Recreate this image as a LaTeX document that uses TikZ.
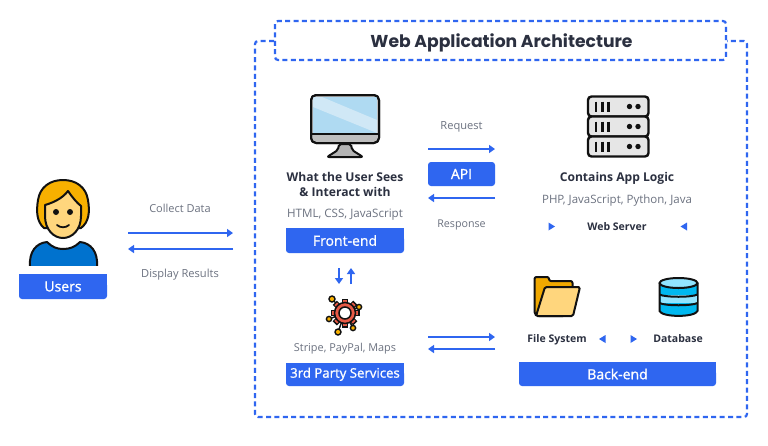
\documentclass[tikz,border=0pt]{standalone}
\usepackage{fontspec}
\setmainfont{Open Sans}
\newfontfamily\titlefont{Poppins}
\newfontfamily\medfont[FakeBold=1.1]{Open Sans}
\usetikzlibrary{arrows.meta}
\definecolor{brandblue}{HTML}{2F66F0}
\definecolor{inkdark}{HTML}{2B3040}
\definecolor{inkgray}{HTML}{6C7280}
\definecolor{iconline}{HTML}{111111}
\definecolor{shirt}{RGB}{0,114,206}
\definecolor{hair}{RGB}{247,176,0}
\definecolor{skin}{RGB}{255,214,125}
\definecolor{standgray}{RGB}{180,180,180}
\definecolor{bezel}{RGB}{190,190,190}
\definecolor{screenblue}{RGB}{175,218,242}
\definecolor{screenlight}{RGB}{208,232,246}
\definecolor{rackgray}{RGB}{230,230,230}
\definecolor{gearred}{RGB}{232,90,70}
\definecolor{folderback}{RGB}{240,168,0}
\definecolor{dbdark}{RGB}{0,184,240}
\definecolor{dblight}{RGB}{145,228,255}
\tikzset{
  frameline/.style={draw=brandblue,line width=2.2pt,dash pattern=on 5pt off 3.4pt},
  flow/.style={draw=brandblue,line width=1.9pt,-{Triangle[length=6pt,width=8pt]}},
  tagtext/.style={text=white,font=\medfont\fontsize{14}{15}\selectfont,inner sep=0pt},
  headtext/.style={text=inkdark,font=\fontsize{12.1}{15}\selectfont\bfseries,inner sep=0pt,align=center},
  subtext/.style={text=inkgray,inner sep=0pt},
  smalldark/.style={text=inkdark,font=\fontsize{10.5}{12}\selectfont\bfseries,inner sep=0pt},
  marker/.style={fill=brandblue},
  ic/.style={draw=iconline,line width=2pt,line join=round},
}
\newcommand{\sz}[1]{\fontsize{#1}{12}\selectfont}
\newcommand{\tagbox}[6]{% name x0 y0 x1 y1 text
  \fill[brandblue,rounded corners=3pt] (#2,#3+8) -- (#2,#5) -- (#4,#5) -- (#4,#3+8) -- cycle;
  \fill[brandblue] (#2,#3) rectangle (#4,#5-5);
  \node[tagtext] (#1) at ({(#2+#4)/2},{(#3+#5)/2}) {#6};
}
\begin{document}
\begin{tikzpicture}[x=1pt,y=-1pt]
\useasboundingbox (0,0) rectangle (768,445);
\fill[white] (0,0) rectangle (768,445);

% frames
\draw[frameline,rounded corners=3pt] (274,41) -- (255,41) -- (255,417) -- (747,417) -- (747,41) -- (727,41);
\draw[frameline,rounded corners=3pt] (275,21) rectangle (726,60);
\node[text=inkdark,font=\titlefont\fontsize{17.2}{18}\selectfont\bfseries,inner sep=0pt] (title) at (501.5,42.5) {Web Application Architecture};

% user icon
\draw[ic,fill=shirt] (30,266) .. controls (29,252) and (36,243) .. (47,242) .. controls (52,247) and (57,249) .. (63,249) .. controls (70,249) and (75,247) .. (80,242) .. controls (91,243) and (98,252) .. (97,266);
\fill[white] (27,266) rectangle (100,270);
\draw[ic,fill=hair] (44,228) .. controls (37,222) and (36,212) .. (38,200) .. controls (40,187) and (50,180) .. (63,180) .. controls (76,180) and (86,187) .. (88,200) .. controls (90,212) and (89,222) .. (81,228) -- cycle;
\draw[ic,fill=skin] (45,205) .. controls (52,203) and (62,199) .. (68,191) .. controls (72,197) and (77,203) .. (81,206) -- (81,216) .. controls (81,230) and (72,238) .. (63,238) .. controls (54,238) and (45,230) .. (45,216) -- cycle;
\fill[iconline] (56,212) circle (3) (70,212) circle (3);
\draw[iconline,line width=1.8pt,line cap=round] (57,225) .. controls (60,228) and (66,228) .. (69,225);
\tagbox{users}{19}{274}{107}{299}{Users}

% monitor
\draw[ic,fill=standgray,rounded corners=2pt] (327,157) -- (338,150) -- (339,144) -- (351,144) -- (352,150) -- (363,157) -- cycle;
\draw[ic,fill=bezel,rounded corners=5pt] (311,95) rectangle (379,143);
\fill[screenblue] (313,97) rectangle (377,133);
\fill[screenlight] (313,97) -- (322,97) -- (377,120) -- (377,133) -- (313,107) -- cycle;
\draw[ic,rounded corners=5pt] (311,95) rectangle (379,143);
\draw[iconline,line width=2pt] (312,134) -- (378,134);

% server
\foreach \yy in {96.5,116.5,136.5}{
  \draw[ic,line width=2.4pt,fill=rackgray,rounded corners=3.5pt] (588,\yy) rectangle (648.5,\yy+20);
  \draw[iconline,line width=2.4pt] (596,\yy+5) -- (596,\yy+15) (602.5,\yy+5) -- (602.5,\yy+15) (608.5,\yy+5) -- (608.5,\yy+15);
  \fill[iconline] (629.5,\yy+10) circle (2.7) (638,\yy+10) circle (2.7);
}

% gear
\draw[iconline,line width=1.4pt] (345,313) -- (332,299) (345,313) -- (359,307) (345,313) -- (329,319) (345,313) -- (338,332) (345,313) -- (353,328);
\foreach \a in {0,45,...,315}{
  \fill[iconline,rotate around={\a:(345,313)}] (342,298.5) rectangle (348,304);
  \fill[gearred,rotate around={\a:(345,313)}] (343.2,300) rectangle (346.8,304);
}
\draw[iconline,line width=1.5pt,fill=gearred] (345,313) circle (10.5);
\draw[iconline,line width=1.5pt,fill=white] (345,313) circle (6);
\foreach \px/\py/\rr in {332/299/3,359/307/2.6,329/319/2.6,338/332/3,353/328/2.6}{
  \draw[iconline,line width=1.4pt,fill=hair] (\px,\py) circle (\rr);
}

% folder
\draw[ic,fill=folderback,rounded corners=2pt] (537,316) -- (534.5,314) -- (534.5,277) -- (549,277) -- (549,281) -- (572.5,281) -- (572.5,288) -- (565,316) -- cycle;
\draw[ic,fill=skin,rounded corners=1.5pt] (545,287) -- (580,287) -- (573,316) -- (536,316) -- cycle;

% database
\draw[ic,fill=dbdark] (659.5,283) -- (659.5,311) .. controls (662,317.5) and (695,317.5) .. (697.5,311) -- (697.5,283) -- cycle;
\fill[dblight] (660.5,295) rectangle (696.5,303);
\draw[iconline,line width=2pt] (659.5,294.5) .. controls (665,297.5) and (692,297.5) .. (697.5,294.5);
\draw[iconline,line width=2pt] (659.5,303) .. controls (665,306) and (692,306) .. (697.5,303);
\draw[ic,fill=dblight] (678.5,283) ellipse (19 and 5);

% texts
\node[subtext,font=\sz{11}] (collect) at (180,208) {Collect Data};
\node[subtext,font=\sz{11.1}] (display) at (180,275) {Display Results};
\node[subtext,font=\sz{11.1}] (request) at (461.5,126.5) {Request};
\node[subtext,font=\sz{10.7}] (response) at (461.5,225) {Response};
\node[headtext] (sees) at (345,184) {What the User Sees\\\& Interact with};
\node[subtext,font=\sz{11.6}] (html) at (345,215) {HTML, CSS, JavaScript};
\tagbox{frontend}{286}{228}{404}{253}{Front-end}
\node[fill=brandblue,minimum width=67pt,minimum height=24pt,rounded corners=3pt,text=white,font=\medfont\fontsize{14}{15}\selectfont,inner sep=0pt] (api) at (461.5,174) {API};
\node[subtext,font=\sz{10.9}] (stripe) at (345,349) {Stripe, PayPal, Maps};
\tagbox{thirdparty}{286}{362.5}{404}{386}{\fontsize{13.2}{15}\selectfont 3rd Party Services}
\node[headtext] (logic) at (617,178) {Contains App Logic};
\node[subtext,font=\sz{11.5}] (php) at (617,201) {PHP, JavaScript, Python, Java};
\node[smalldark] (webserver) at (617,227) {Web Server};
\node[smalldark] (filesystem) at (557,339.5) {File System};
\node[smalldark] (database) at (678,339) {Database};
\tagbox{backend}{519}{362}{716}{386}{Back-end}

% markers
\fill[marker] (548.5,222.5) -- (555,226.5) -- (548.5,230.5) -- cycle;
\fill[marker] (687,222.5) -- (680.5,226.5) -- (687,230.5) -- cycle;
\fill[marker] (605.5,335) -- (599,339) -- (605.5,343) -- cycle;
\fill[marker] (630.5,335) -- (637,339) -- (630.5,343) -- cycle;

% connector end points
\coordinate (ca) at (128,233); \coordinate (cb) at (233,233);
\coordinate (da) at (233,249); \coordinate (db) at (128,249);
\coordinate (ra) at (428,149); \coordinate (rb) at (495,149);
\coordinate (sa) at (495,198); \coordinate (sb) at (428,198);
\coordinate (ta) at (428,337); \coordinate (tb) at (495,337);
\coordinate (ua) at (495,349); \coordinate (ub) at (428,349);
\coordinate (va) at (339,268); \coordinate (vb) at (339,284);
\coordinate (wa) at (351,284); \coordinate (wb) at (351,268);
\draw[flow] (ca) -- (cb);
\draw[flow] (da) -- (db);
\draw[flow] (ra) -- (rb);
\draw[flow] (sa) -- (sb);
\draw[flow] (ta) -- (tb);
\draw[flow] (ua) -- (ub);
\draw[flow] (va) -- (vb);
\draw[flow] (wa) -- (wb);
\end{tikzpicture}
\end{document}
